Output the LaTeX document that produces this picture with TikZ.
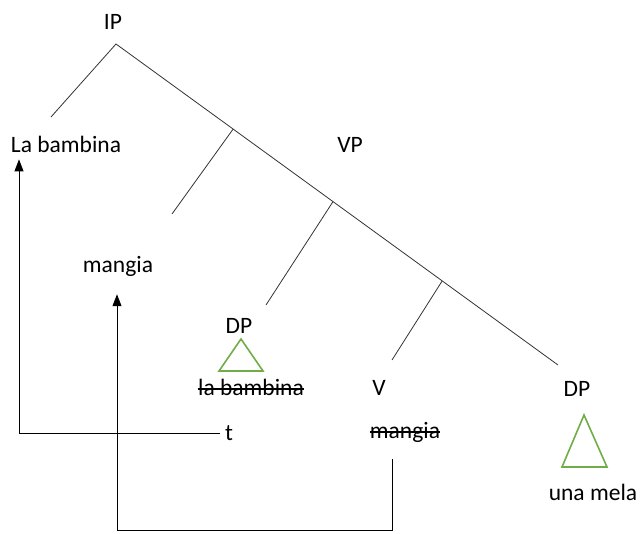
\documentclass[tikz,border=0pt]{standalone}
\usepackage{fontspec}
\setmainfont{Carlito}
\usetikzlibrary{arrows.meta}
\definecolor{dpgreen}{RGB}{112,173,71}

\begin{document}
\begin{tikzpicture}[x=1pt, y=-1pt,
                    word/.style={inner sep=0pt, anchor=base, font=\fontsize{23.5}{28}\selectfont},
                    branch/.style={draw=black!80, line width=0.8pt},
                    strike/.style={draw=black, line width=1.1pt},
                    dpshape/.style={draw=dpgreen, line width=1.6pt},
                    mover/.style={draw=black, line width=0.9pt, -{Triangle[width=9pt,length=12pt]}}
                ]
                    \useasboundingbox (0,0) rectangle (642,534);
                    % labels
                    \node[word] (ip) at (113,30) {IP};
                    \node[word] (bambina) at (66,153) {La bambina};
                    \node[word] (vp) at (350,153) {VP};
                    \node[word] (mangia) at (118,273) {mangia};
                    \node[word] (dpl) at (239,334) {DP};
                    \node[word] (bambinaX) at (251,395) {la bambina};
                    \node[word] (v) at (379,395) {V};
                    \node[word] (t) at (229,440) {t};
                    \node[word] (mangiaX) at (405,438) {mangia};
                    \node[word] (dpr) at (577,396) {DP};
                    \node[word] (mela) at (593,500) {una mela};
                    % crossed-out copies
                    \draw[strike] ([yshift=6pt]bambinaX.base west) -- ([yshift=6pt]bambinaX.base east);
                    \draw[strike] ([yshift=6pt]mangiaX.base west) -- ([yshift=6pt]mangiaX.base east);
                    % tree
                    \coordinate (top) at (116,44);
                    \coordinate (leftend) at (51,117);
                    \coordinate (spine) at (558,365);
                    \draw[branch] (leftend) -- (top) -- (spine)
                        coordinate[pos=0.265] (k1)
                        coordinate[pos=0.491] (k2)
                        coordinate[pos=0.738] (k3);
                    \draw[branch] (k1) -- (172,214);
                    \draw[branch] (k2) -- (266,305);
                    \draw[branch] (k3) -- (392,360);
                    % triangles
                    \draw[dpshape] (241,339) -- (263,371) -- (219,371) -- cycle;
                    \draw[dpshape] (584,415) -- (607,467) -- (562,467) -- cycle;
                    % movement
                    \coordinate (turnA) at (19,433);
                    \draw[mover, shorten <=5pt, shorten >=6pt] (t.west |- turnA) -- (turnA) -- (turnA |- bambina.south);
                    \coordinate (startB) at (392,459);
                    \coordinate (turnB) at (392,530);
                    \coordinate (turnC) at (117,530);
                    \draw[mover, shorten >=17pt] (startB) -- (turnB) -- (turnC) -- (turnC |- mangia.south);
                \end{tikzpicture}
\end{document}
